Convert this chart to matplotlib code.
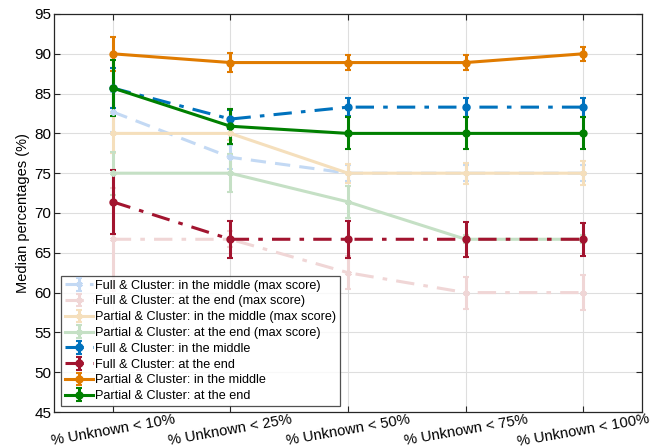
import numpy as np
import matplotlib
matplotlib.use("Agg")
import matplotlib.pyplot as plt

plt.rcParams.update({
    "font.family": ["Liberation Sans", "DejaVu Sans"], "font.size": 8.5,
})

categories = ["% Unknown < 10%", "% Unknown < 25%", "% Unknown < 50%",
              "% Unknown < 75%", "% Unknown < 100%"]

# series values and error half-widths
full_mid_max = [82.7, 77.0, 75.0, 75.0, 75.0]
full_mid_max_err = [2.5, 1.5, 1.0, 1.0, 1.0]
full_end_max = [66.7, 66.7, 62.5, 60.0, 60.0]
full_end_max_err = [6.5, 1.0, 2.1, 2.0, 2.2]
part_mid_max = [80.0, 80.0, 75.0, 75.0, 75.0]
part_mid_max_err = [2.5, 0.8, 1.2, 1.3, 1.5]
part_end_max = [75.0, 75.0, 71.4, 66.7, 66.7]
part_end_max_err = [2.7, 2.4, 2.0, 0.5, 0.5]
full_mid = [85.7, 81.8, 83.3, 83.3, 83.3]
full_mid_err = [2.5, 1.2, 1.1, 1.2, 1.2]
full_end = [71.4, 66.7, 66.7, 66.7, 66.7]
full_end_err = [4.0, 2.3, 2.3, 2.2, 2.1]
part_mid = [90.0, 88.9, 88.9, 88.9, 90.0]
part_mid_err = [2.1, 1.2, 0.9, 0.9, 0.9]
part_end = [85.7, 80.9, 80.0, 80.0, 80.0]
part_end_err = [3.5, 2.2, 2.0, 2.0, 2.0]

x = np.arange(1, len(categories) + 1)
star = (6, 2, 0)
dashdot = (0, (6, 3, 1.5, 3))

series = [
    ("Full & Cluster: in the middle (max score)", full_mid_max, full_mid_max_err, "#c3d9f4", (0, (5, 3)), star),
    ("Full & Cluster: at the end (max score)", full_end_max, full_end_max_err, "#f0d6d6", dashdot, star),
    ("Partial & Cluster: in the middle (max score)", part_mid_max, part_mid_max_err, "#f5dfbc", "-", star),
    ("Partial & Cluster: at the end (max score)", part_end_max, part_end_max_err, "#c5e0c5", "-", star),
    ("Full & Cluster: in the middle", full_mid, full_mid_err, "#0072bd", dashdot, "o"),
    ("Full & Cluster: at the end", full_end, full_end_err, "#a2142f", dashdot, "o"),
    ("Partial & Cluster: in the middle", part_mid, part_mid_err, "#e07b00", "-", "o"),
    ("Partial & Cluster: at the end", part_end, part_end_err, "#008000", "-", "o"),
]

fig = plt.figure(figsize=(6.68, 4.48), dpi=100)
ax = fig.add_axes([54 / 668, 36 / 448, 588 / 668, 398 / 448])

for label, vals, err, col, ls, mk in series:
    ax.errorbar(x, vals, yerr=err, color=col, ls=ls, lw=2.2, marker=mk,
                ms=4.5, mew=1.5, capsize=2.2, capthick=2.2, elinewidth=2.2,
                label=label)

ax.set_xlim(0.5, 5.5)
ax.set_ylim(45, 95)
ax.set_yticks(np.arange(45, 96, 5))
ax.set_xticks(x)
ax.set_xticklabels(categories, rotation=10, fontsize=10.6)
ax.tick_params(axis="x", pad=0)
ax.tick_params(axis="y", labelsize=11, pad=2)
ax.tick_params(direction="in", top=True, right=True, length=4, color="#262626")
ax.set_ylabel("Median percentages (%)", fontsize=10.5, labelpad=3)
ax.grid(True, color="#dedede", lw=0.8)
ax.set_axisbelow(True)
for s in ax.spines.values():
    s.set_color("#262626")
    s.set_linewidth(0.9)

leg = ax.legend(loc="lower left", bbox_to_anchor=(0.012, 0.015), fontsize=9.1,
                frameon=True, fancybox=False, edgecolor="#262626",
                handlelength=2.2, handletextpad=0.2, borderpad=0.3,
                labelspacing=0.3, borderaxespad=0)
leg.get_frame().set_linewidth(0.9)

fig.savefig("out.png", dpi=100)
